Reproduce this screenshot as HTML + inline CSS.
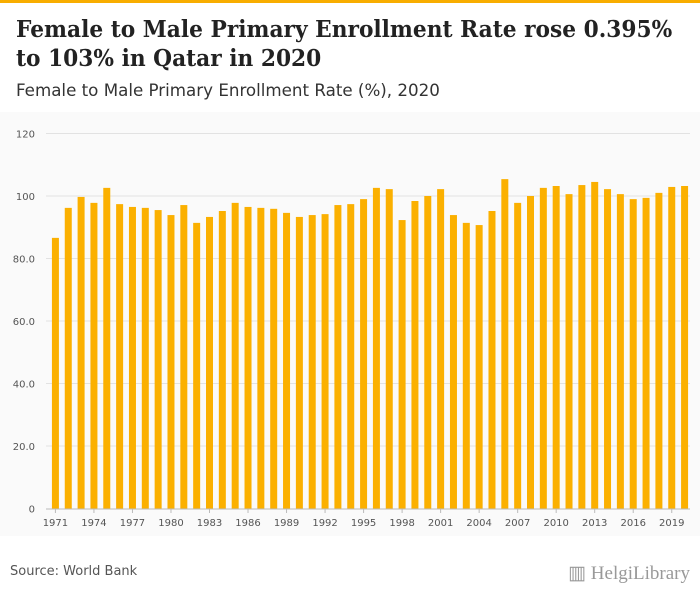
<!DOCTYPE html>
<html><head><meta charset="utf-8"><style>
body{margin:0;width:700px;height:596px;background:#fff;font-family:"DejaVu Sans",sans-serif;overflow:hidden;position:relative}
#topbar{position:absolute;left:0;top:0;width:700px;height:3px;background:#f8ad00}
#title{position:absolute;left:16px;top:15px;font-family:"DejaVu Serif",serif;font-weight:bold;font-size:23px;line-height:29px;color:#222;white-space:nowrap;transform:scaleX(0.944);transform-origin:0 0}
#subtitle{position:absolute;left:16px;top:80px;font-size:16.7px;color:#333}
#plot{position:absolute;left:0;top:112px;width:700px;height:424px;background:#fafafa}
#source{position:absolute;left:10px;top:564px;font-size:13px;color:#555}
#logo{position:absolute;right:10px;top:562px;font-family:"Liberation Serif",serif;font-size:19px;color:#999}
</style></head><body>
<div id="topbar"></div>
<div id="title">Female to Male Primary Enrollment Rate rose 0.395%<br>to 103% in Qatar in 2020</div>
<div id="subtitle">Female to Male Primary Enrollment Rate (%), 2020</div>
<div id="plot"></div>
<svg id="chart" width="700" height="596" style="position:absolute;left:0;top:0"></svg>
<div id="source">Source: World Bank</div>
<div id="logo">▥ HelgiLibrary</div>
<script>
const years=[1971,1972,1973,1974,1975,1976,1977,1978,1979,1980,1981,1982,1983,1984,1985,1986,1987,1988,1989,1990,1991,1992,1993,1994,1995,1996,1997,1998,1999,2000,2001,2002,2003,2004,2005,2006,2007,2008,2009,2010,2011,2012,2013,2014,2015,2016,2017,2018,2019,2020];
const values=[86.6,96.2,99.7,97.8,102.6,97.4,96.5,96.2,95.5,93.9,97.1,91.4,93.3,95.2,97.8,96.5,96.2,95.9,94.6,93.3,93.9,94.2,97.1,97.4,99.0,102.6,102.2,92.3,98.4,100,102.2,93.9,91.4,90.7,95.2,105.4,97.8,100,102.6,103.2,100.6,103.5,104.5,102.2,100.6,99.0,99.4,101,102.9,103.2];
const yTicks=[0,20,40,60,80,100,120];
const yTickLabels=["0","20.0","40.0","60.0","80.0","100","120"];
const NS="http://www.w3.org/2000/svg";
const svg=document.getElementById('chart');
const x0=49,band=12.84,barW=7;
const y=v=>508.5-v*3.125;
const x=i=>x0+i*band;
function mk(t,a){const e=document.createElementNS(NS,t);for(const k in a)e.setAttribute(k,a[k]);svg.appendChild(e);return e;}
yTicks.forEach((t,i)=>{
  if(t>0){const g=mk('line',{x1:46,x2:690,y1:y(t),y2:y(t),stroke:'#e2e2e2','stroke-width':1});
  
  }
  const l=mk('text',{x:35,y:y(t)+4,'text-anchor':'end','font-size':10,fill:'#555','font-family':'DejaVu Sans, sans-serif'});
  l.textContent=yTickLabels[i];
  
  
});
const ax=mk('line',{x1:46,x2:690,y1:509,y2:509,stroke:'#bbb','stroke-width':1});


values.forEach((v,i)=>{
  const b=mk('rect',{x:x(i)+(band-barW)/2,y:y(v),width:barW,height:y(0)-y(v),fill:'#fbb000'});
  
  
  if(i%3===0){
    const cx=x(i)+band/2;
    const tk=mk('line',{x1:cx,x2:cx,y1:509,y2:513,stroke:'#bbb'});
    
    
    const t=mk('text',{x:cx,y:526,'text-anchor':'middle','font-size':10,fill:'#555','font-family':'DejaVu Sans, sans-serif'});
    t.textContent=years[i];
    
    
  }
});
</script>
</body></html>
